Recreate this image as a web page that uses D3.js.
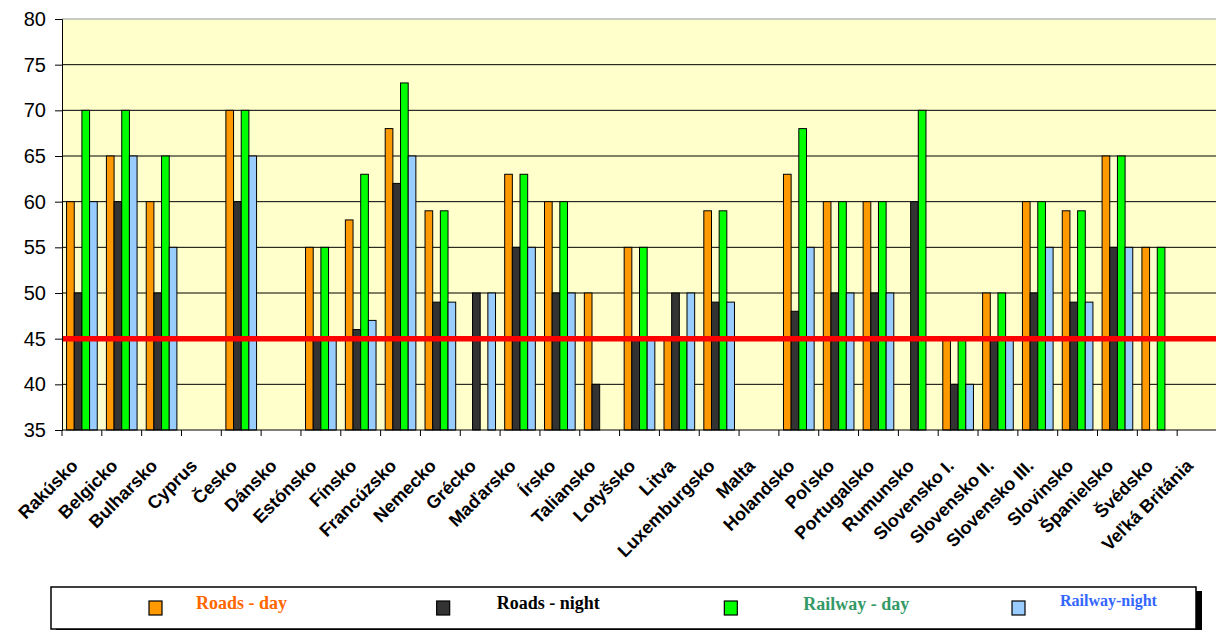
<!DOCTYPE html>
<html>
<head>
<meta charset="utf-8">
<script src="https://cdn.jsdelivr.net/npm/d3@7"></script>
<style>
  body { margin: 0; background: #fff; }
  svg { display: block; }
</style>
</head>
<body>
<svg id="chart" width="1216" height="630"></svg>
<script>
// countries on the x axis
const categories = ["Rakúsko", "Belgicko", "Bulharsko", "Cyprus", "Česko", "Dánsko", "Estónsko", "Fínsko",
  "Francúzsko", "Nemecko", "Grécko", "Maďarsko", "Írsko", "Taliansko", "Lotyšsko", "Litva", "Luxemburgsko",
  "Malta", "Holandsko", "Poľsko", "Portugalsko", "Rumunsko", "Slovensko I.", "Slovensko II.", "Slovensko III.",
  "Slovinsko", "Španielsko", "Švédsko", "Veľká Británia"];

// noise limits (dB), null = no value
const roadsDay     = [60, 65, 60, null, 70, null, 55, 58, 68, 59, null, 63, 60, 50, 55, 45, 59, null, 63, 60, 60, null, 45, 50, 60, 59, 65, 55, null];
const roadsNight   = [50, 60, 50, null, 60, null, 45, 46, 62, 49, 50, 55, 50, 40, 45, 50, 49, null, 48, 50, 50, 60, 40, 45, 50, 49, 55, null, null];
const railwayDay   = [70, 70, 65, null, 70, null, 55, 63, 73, 59, null, 63, 60, null, 55, 45, 59, null, 68, 60, 60, 70, 45, 50, 60, 59, 65, 55, null];
const railwayNight = [60, 65, 55, null, 65, null, 45, 47, 65, 49, 50, 55, 50, null, 45, 50, 49, null, 55, 50, 50, null, 40, 45, 55, 49, 55, null, null];

const seriesNames = ["Roads - day", "Roads - night", "Railway - day", "Railway-night"];
const yTicks = [35, 40, 45, 50, 55, 60, 65, 70, 75, 80];
const limitLine = 45;

const fills = ["#FF9900", "#333333", "#00FF00", "#99CCFF"];
const legendText = ["#FF6600", "#000000", "#339966", "#3366FF"];

let margin = {left: 62, top: 19, right: -1, bottom: 200};
let width = 1216, height = 630;
let svg = d3.select("#chart");

let x0 = d3.scaleBand()
  .domain(categories)
  .range([margin.left, width - margin.right])
  .paddingInner(0.23)
  .paddingOuter(0.115);

let x1 = d3.scaleBand()
  .domain(seriesNames)
  .range([0, x0.bandwidth()]);

let y = d3.scaleLinear()
  .domain([35, 80])
  .range([height - margin.bottom, margin.top]);

let plotW = width - margin.right - margin.left;

// plot background
svg.append("rect")
  .attr("x", margin.left).attr("y", margin.top)
  .attr("width", plotW).attr("height", y(35) - margin.top)
  .attr("fill", "#FFFFCC");

// gridlines
svg.append("g").selectAll("line")
  .data(yTicks.filter(d => d > 35))
  .join("line")
  .attr("x1", margin.left).attr("x2", width - margin.right)
  .attr("y1", d => y(d)).attr("y2", d => y(d))
  .attr("stroke", d => d === 80 ? "#b8b8b8" : "#000")
  .attr("stroke-width", d => d === 80 ? 1.5 : 1);

// bars
let table = categories.map((c, i) => ({
  name: c,
  vals: [roadsDay[i], roadsNight[i], railwayDay[i], railwayNight[i]]
}));

let groups = svg.append("g")
  .selectAll("g")
  .data(table)
  .join("g")
  .attr("transform", d => `translate(${x0(d.name)},0)`);

groups.selectAll("rect")
  .data(d => d.vals.map((v, k) => ({key: seriesNames[k], k: k, v: v})).filter(e => e.v != null))
  .join("rect")
  .attr("x", d => x1(d.key))
  .attr("width", x1.bandwidth())
  .attr("y", d => y(d.v))
  .attr("height", d => y(35) - y(d.v))
  .attr("fill", d => fills[d.k])
  .attr("stroke", "#000")
  .attr("stroke-width", 1);

// red limit line
svg.append("line")
  .attr("x1", margin.left).attr("x2", width - margin.right)
  .attr("y1", y(limitLine)).attr("y2", y(limitLine))
  .attr("stroke", "#FF0000")
  .attr("stroke-width", 5.5);

// y axis
let axisY = svg.append("g")
  .attr("transform", `translate(${margin.left},0)`)
  .call(d3.axisLeft(y).tickValues(yTicks).tickSize(7).tickPadding(9));
axisY.select(".domain").attr("stroke", "#000");
axisY.selectAll("text")
  .attr("font-family", "'Liberation Sans', Arial, sans-serif")
  .attr("font-size", 20)
  .attr("fill", "#000");

// x axis line and ticks at band boundaries
let step = x0.step();
let axisX = svg.append("g");
axisX.append("line")
  .attr("x1", margin.left).attr("x2", width - margin.right)
  .attr("y1", y(35)).attr("y2", y(35))
  .attr("stroke", "#000");
axisX.selectAll("line.tick")
  .data(d3.range(categories.length + 1))
  .join("line")
  .attr("class", "tick")
  .attr("x1", i => margin.left + i * step).attr("x2", i => margin.left + i * step)
  .attr("y1", y(35)).attr("y2", y(35) + 6)
  .attr("stroke", "#000");

axisX.selectAll("text")
  .data(categories)
  .join("text")
  .attr("transform", d => `translate(${x0(d) + x0.bandwidth() / 2 - 3},${y(35) + 37}) rotate(-45)`)
  .attr("text-anchor", "end")
  .attr("font-family", "'Liberation Sans', Arial, sans-serif")
  .attr("font-weight", "bold")
  .attr("font-size", 18)
  .attr("fill", "#000")
  .text(d => d);

// legend
let legend = svg.append("g");
legend.append("rect")
  .attr("x", 56).attr("y", 591).attr("width", 1146).attr("height", 42)
  .attr("fill", "#000");
legend.append("rect")
  .attr("x", 51).attr("y", 587).attr("width", 1145).attr("height", 42)
  .attr("fill", "#fff").attr("stroke", "#000").attr("stroke-width", 1.5);

let legendX = d3.scaleLinear().domain([0, 3]).range([149, 1012]);
let textOffsets = [47, 60, 79, 48];
let textBase = [609, 609, 610, 606];
let textSize = [18, 18, 18, 16];

let items = legend.selectAll("g.item")
  .data(seriesNames)
  .join("g")
  .attr("class", "item");

items.append("rect")
  .attr("x", (d, i) => legendX(i)).attr("y", 601)
  .attr("width", 13).attr("height", 14)
  .attr("fill", (d, i) => fills[i])
  .attr("stroke", "#000").attr("stroke-width", 1.2);

items.append("text")
  .attr("x", (d, i) => legendX(i) + textOffsets[i])
  .attr("y", (d, i) => textBase[i])
  .attr("font-family", "'Liberation Serif', 'Times New Roman', serif")
  .attr("font-weight", "bold")
  .attr("font-size", (d, i) => textSize[i])
  .attr("fill", (d, i) => legendText[i])
  .text(d => d);
</script>
</body>
</html>
